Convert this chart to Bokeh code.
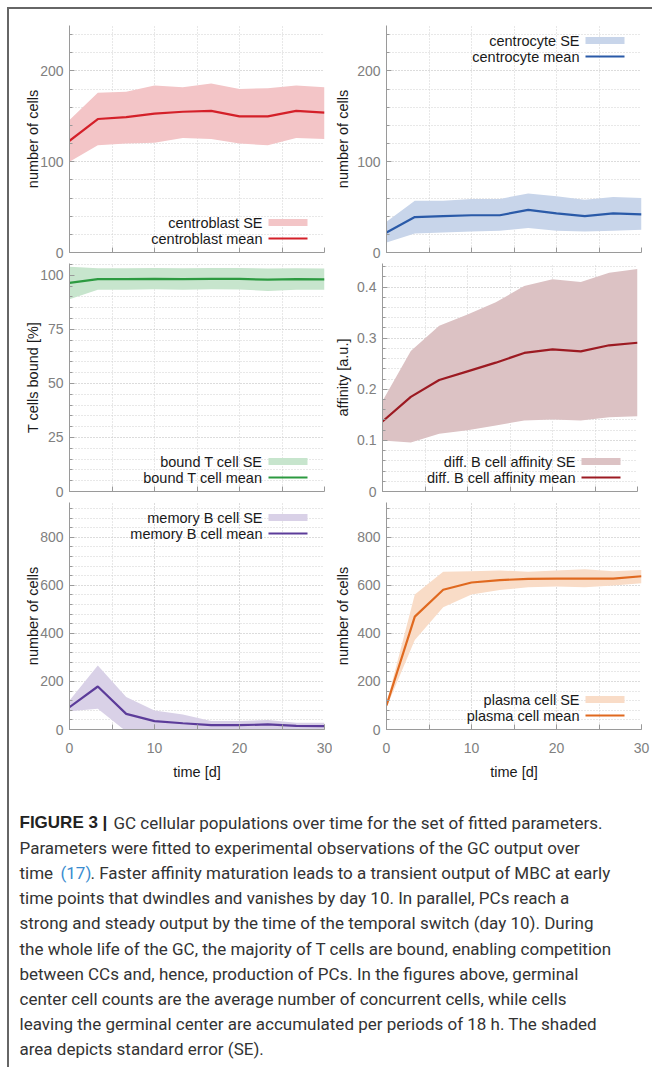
from bokeh.plotting import figure
from bokeh.layouts import column, row
from bokeh.models import Range1d, FixedTicker, Spacer
from bokeh.core.properties import value
from bokeh.embed import file_html
from bokeh.resources import INLINE

# ---------------- data ----------------
time_d = [0, 3.33, 6.67, 10, 13.33, 16.67, 20, 23.33, 26.67, 30]

centroblast_mean = [123, 147, 149, 153, 155, 156, 150, 150, 156, 154]
centroblast_upper = [146, 176, 177, 184, 182, 186, 180, 181, 184, 182]
centroblast_lower = [100, 118, 120, 121, 126, 125, 120, 118, 126, 125]

centrocyte_mean = [22, 39, 40, 41, 41, 47, 43, 40, 43, 42]
centrocyte_upper = [34, 57, 57, 59, 59, 65, 62, 58, 61, 60]
centrocyte_lower = [11, 21, 22, 23, 24, 27, 24, 23, 24, 25]

tcell_mean = [96.5, 98.3, 98.3, 98.4, 98.3, 98.4, 98.4, 98.0, 98.3, 98.2]
tcell_upper = [104.0, 103.3, 103.3, 103.4, 103.3, 103.4, 103.4, 103.2, 103.3, 103.2]
tcell_lower = [89.0, 93.4, 93.4, 93.6, 93.4, 93.6, 93.5, 92.8, 93.4, 93.3]

affinity_mean = [0.137, 0.185, 0.218, 0.235, 0.252, 0.271, 0.278, 0.274, 0.286, 0.291]
affinity_upper = [0.177, 0.275, 0.324, 0.346, 0.370, 0.402, 0.415, 0.410, 0.428, 0.435]
affinity_lower = [0.100, 0.096, 0.113, 0.120, 0.129, 0.139, 0.141, 0.139, 0.145, 0.147]

memory_mean = [93, 179, 65, 35, 26, 18, 18, 21, 15, 14]
memory_upper = [121, 266, 135, 79, 62, 35, 35, 40, 28, 28]
memory_lower = [76, 86, -8, -9, -10, 1, 1, 2, 2, 0]

plasma_mean = [100, 470, 582, 612, 622, 627, 628, 628, 628, 638]
plasma_upper = [107, 562, 657, 659, 662, 657, 662, 667, 659, 664]
plasma_lower = [93, 373, 509, 562, 581, 592, 595, 592, 599, 609]

x_ticks = [0, 10, 20, 30]
x_minor = [0, 5, 10, 15, 20, 25, 30]

caption_lines = [
    "Parameters were fitted to experimental observations of the GC output over",
    None,
    "time points that dwindles and vanishes by day 10. In parallel, PCs reach a",
    "strong and steady output by the time of the temporal switch (day 10). During",
    "the whole life of the GC, the majority of T cells are bound, enabling competition",
    "between CCs and, hence, production of PCs. In the figures above, germinal",
    "center cell counts are the average number of concurrent cells, while cells",
    "leaving the germinal center are accumulated per periods of 18 h. The shaded",
    "area depicts standard error (SE).",
]

FONT = "Liberation Sans"
FW = 255  # frame width px


def make_panel(mbl, mbr, mbt, mbb, frame_h, yr, yticks, yminor, ylabel, show_x,
               label_standoff):
    p = figure(frame_width=FW, frame_height=frame_h, x_range=Range1d(0, 30),
               y_range=Range1d(*yr), output_backend="svg", toolbar_location=None,
               min_border_left=mbl, min_border_right=mbr, min_border_top=mbt,
               min_border_bottom=mbb)
    p.outline_line_color = None
    p.background_fill_color = "white"
    p.border_fill_color = "white"
    if show_x:
        p.xaxis.ticker = FixedTicker(ticks=x_ticks, minor_ticks=x_minor)
    else:
        p.xaxis.ticker = FixedTicker(ticks=[], minor_ticks=x_minor)
    p.yaxis.ticker = FixedTicker(ticks=yticks, minor_ticks=yminor)
    for ax in (p.xaxis[0], p.yaxis[0]):
        ax.axis_line_color = "#9a9a9a"
        ax.major_tick_line_color = "#9a9a9a"
        ax.minor_tick_line_color = "#9a9a9a"
        ax.major_tick_in = 5
        ax.major_tick_out = 0
        ax.minor_tick_in = 3
        ax.minor_tick_out = 0
        ax.major_label_text_color = "#808080"
        ax.major_label_text_font = FONT
        ax.major_label_text_font_size = "14px"
        ax.axis_label_text_font = FONT
        ax.axis_label_text_font_size = "14.5px"
        ax.axis_label_text_font_style = "normal"
        ax.axis_label_text_color = "#1a1a1a"
    p.xaxis.minor_tick_in = 5
    p.yaxis.axis_label = ylabel
    p.yaxis.major_label_standoff = 6
    p.yaxis.axis_label_standoff = label_standoff
    if show_x:
        p.xaxis.axis_label = "time [d]"
        p.xaxis.major_label_standoff = 13
        p.xaxis.axis_label_standoff = 8
    else:
        p.xaxis.major_label_standoff = 0
    for g in (p.xgrid[0], p.ygrid[0]):
        g.grid_line_color = "#d0d0d0"
        g.grid_line_dash = "1 2"
        g.minor_grid_line_color = "#d0d0d0"
        g.minor_grid_line_dash = "1 2"
    return p


def add_series(p, frame_h, upper, lower, mean, line_color, fill_color, name, legend_top):
    p.varea(x=time_d, y1=lower, y2=upper, fill_color=fill_color, fill_alpha=1.0)
    p.line(time_d, mean, line_color=line_color, line_width=2.2)
    # legend (label left, swatch right) placed via frame-pixel offsets
    y0, y1 = p.y_range.start, p.y_range.end
    ppy = (y1 - y0) / frame_h
    ppx = 30.0 / FW
    if legend_top:
        rows = [y1 - 15 * ppy, y1 - 31 * ppy]
    else:
        rows = [y0 + 30 * ppy, y0 + 14 * ppy]
    xt = 30 - 62 * ppx
    xs0 = 30 - 56 * ppx
    xs1 = 30 - 17 * ppx
    p.text(x=[xt, xt], y=rows, text=[name + " SE", name + " mean"],
           text_align="right", text_baseline="middle", text_font=value(FONT),
           text_font_size="14.5px", text_color="#1a1a1a")
    p.quad(left=[xs0], right=[xs1], bottom=[rows[0] - 3.5 * ppy],
           top=[rows[0] + 3.5 * ppy], fill_color=fill_color, line_color=None)
    p.segment(x0=[xs0], y0=[rows[1]], x1=[xs1], y1=[rows[1]],
              line_color=line_color, line_width=2.2)


LMBL, LMBR, LSO = 60, 8, -4
RMBL, RMBR, RSO = 50, 14, 3

# row 1
p1 = make_panel(LMBL, LMBR, 16, 9, 227, (0, 250), [0, 100, 200],
                list(range(0, 251, 20)), "number of cells", False, LSO)
add_series(p1, 227, centroblast_upper, centroblast_lower, centroblast_mean,
           "#d42029", "#f3c5c7", "centroblast", False)
p2 = make_panel(RMBL, RMBR, 16, 9, 227, (0, 250), [0, 100, 200],
                list(range(0, 251, 20)), "number of cells", False, RSO)
add_series(p2, 227, centrocyte_upper, centrocyte_lower, centrocyte_mean,
           "#2a5aa8", "#c8d5ea", "centrocyte", True)

# row 2
p3 = make_panel(LMBL, LMBR, 2, 9, 228, (0, 105.5), [0, 25, 50, 75, 100],
                list(range(0, 106, 5)), "T cells bound [%]", False, LSO)
add_series(p3, 228, tcell_upper, tcell_lower, tcell_mean,
           "#2c9a40", "#c7e5cd", "bound T cell", False)
p4 = make_panel(RMBL, RMBR, 2, 9, 228, (0, 0.446), [0, 0.1, 0.2, 0.3, 0.4],
                [i * 0.02 for i in range(23)], "affinity [a.u.]", False, RSO)
add_series(p4, 228, affinity_upper, affinity_lower, affinity_mean,
           "#9c1a22", "#dcc2c4", "diff. B cell affinity", False)

# row 3
p5 = make_panel(LMBL, LMBR, 2, 56, 227, (0, 945), [0, 200, 400, 600, 800],
                list(range(0, 945, 40)), "number of cells", True, LSO)
add_series(p5, 227, memory_upper, memory_lower, memory_mean,
           "#5c3c9a", "#d9d1e7", "memory B cell", True)
p6 = make_panel(RMBL, RMBR, 2, 56, 227, (0, 945), [0, 200, 400, 600, 800],
                list(range(0, 945, 40)), "number of cells", True, RSO)
add_series(p6, 227, plasma_upper, plasma_lower, plasma_mean,
           "#e0691f", "#f9dcc7", "plasma cell", False)

# caption
CW, CH = 642, 282
cap = figure(width=CW, height=CH, x_range=Range1d(0, CW), y_range=Range1d(CH, 0),
             output_backend="svg", toolbar_location=None, min_border=0)
cap.axis.visible = False
cap.grid.visible = False
cap.outline_line_color = None
CFONT = value("Roboto")
CSIZE = "17px"
line0 = 37
step = 25.2
X0 = 10
cap.text(x=[X0], y=[line0], text=["FIGURE 3 |"], text_font=value(FONT),
         text_font_size=CSIZE, text_font_style="bold", text_baseline="middle",
         text_color="#222222")
cap.text(x=[104], y=[line0],
         text=["GC cellular populations over time for the set of fitted parameters."],
         text_font=CFONT, text_font_size=CSIZE, text_baseline="middle",
         text_color="#333333")
ys, txts = [], []
for i, t in enumerate(caption_lines):
    if t is not None:
        ys.append(line0 + (i + 1) * step)
        txts.append(t)
cap.text(x=[X0] * len(ys), y=ys, text=txts, text_font=CFONT, text_font_size=CSIZE,
         text_baseline="middle", text_color="#333333")
y3 = line0 + 2 * step
cap.text(x=[X0], y=[y3], text=["time"], text_font=CFONT, text_font_size=CSIZE,
         text_baseline="middle", text_color="#333333")
cap.text(x=[51], y=[y3], text=["(17)"], text_font=CFONT, text_font_size=CSIZE,
         text_baseline="middle", text_color="#3a8ccf")
cap.text(x=[81], y=[y3],
         text=[". Faster affinity maturation leads to a transient output of MBC at early"],
         text_font=CFONT, text_font_size=CSIZE, text_baseline="middle",
         text_color="#333333")

inner = column(row(p1, p2), row(p3, p4), row(p5, p6), cap,
               styles={"border-top": "2px solid #666666",
                       "border-left": "2px solid #666666"})
layout = column(Spacer(height=7, width=10), row(Spacer(width=7, height=10), inner))

open("out.html", "w").write(file_html(layout, INLINE))
